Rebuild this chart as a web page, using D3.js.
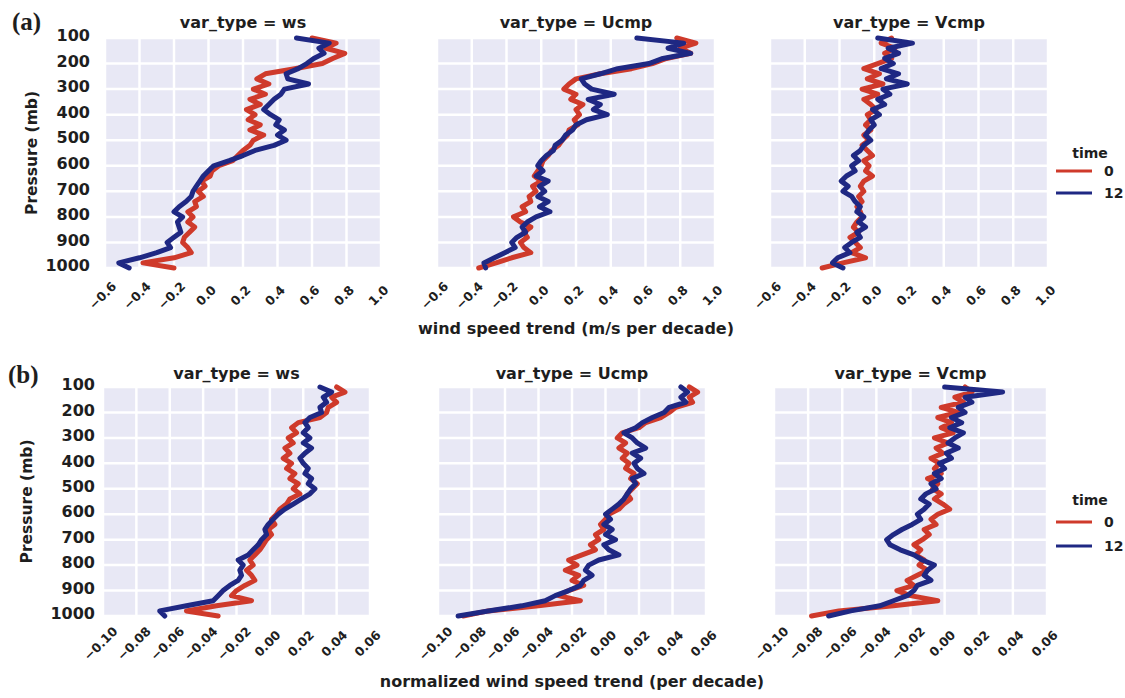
<!DOCTYPE html>
<html>
<head>
<meta charset="utf-8">
<script src="https://cdn.jsdelivr.net/npm/d3@7"></script>
<style>
  body { margin: 0; background: #ffffff; }
  text { font-family: "DejaVu Sans", sans-serif; font-weight: bold; fill: #1e1e1e; }
</style>
</head>
<body>
<svg id="fig" width="1125" height="698"></svg>
<script>
// Pressure levels (mb) at which the trends are sampled
const pressureLevels = [100,120,140,160,180,200,220,240,260,280,300,320,340,360,380,400,420,440,460,480,500,
  520,540,560,580,600,620,640,660,680,700,720,740,760,780,800,820,840,860,880,900,920,940,960,980,1000];
const pressureTicks = [100,200,300,400,500,600,700,800,900,1000];
const varTypes = ["ws", "Ucmp", "Vcmp"];
const timeLabels = ["0", "12"];
const trendTicks = [-0.6,-0.4,-0.2,0.0,0.2,0.4,0.6,0.8,1.0];
const normTicks = [-0.10,-0.08,-0.06,-0.04,-0.02,0.00,0.02,0.04,0.06];

// (a) wind speed trend, m/s per decade
const wsTrend0 = [0.60,0.74,0.68,0.79,0.72,0.66,0.50,0.33,0.28,0.35,0.26,0.33,0.24,0.30,0.22,0.27,0.23,0.30,0.24,0.32,0.26,
  0.24,0.20,0.17,0.14,0.06,0.02,0.01,-0.04,-0.02,-0.06,-0.03,-0.08,-0.07,-0.12,-0.09,-0.12,-0.08,-0.11,-0.14,-0.15,-0.12,-0.10,-0.20,-0.38,-0.20];
const wsTrend12 = [0.51,0.70,0.64,0.67,0.61,0.57,0.52,0.45,0.46,0.58,0.44,0.42,0.38,0.35,0.32,0.36,0.41,0.39,0.44,0.40,0.45,
  0.38,0.27,0.20,0.12,0.03,0.00,-0.03,-0.05,-0.07,-0.09,-0.10,-0.13,-0.17,-0.20,-0.15,-0.18,-0.17,-0.16,-0.20,-0.24,-0.22,-0.30,-0.40,-0.52,-0.46];
const ucmpTrend0 = [0.78,0.89,0.80,0.86,0.72,0.64,0.52,0.34,0.20,0.16,0.13,0.20,0.17,0.24,0.20,0.22,0.19,0.21,0.16,0.15,0.12,
  0.10,0.06,0.04,0.01,0.00,-0.02,-0.04,0.00,-0.05,-0.03,-0.07,-0.06,-0.11,-0.09,-0.16,-0.12,-0.06,-0.10,-0.08,-0.12,-0.10,-0.06,-0.17,-0.26,-0.36];
const ucmpTrend12 = [0.55,0.82,0.73,0.86,0.70,0.62,0.44,0.34,0.23,0.25,0.29,0.42,0.27,0.34,0.30,0.38,0.26,0.20,0.18,0.14,0.12,
  0.08,0.07,0.03,0.00,-0.02,0.01,-0.03,0.04,-0.01,0.02,-0.02,0.04,-0.01,0.05,-0.03,-0.08,-0.11,-0.09,-0.14,-0.17,-0.15,-0.21,-0.27,-0.33,-0.32];
const vcmpTrend0 = [0.10,0.04,0.12,0.06,0.10,0.02,-0.06,0.03,-0.04,0.05,-0.07,0.02,-0.06,-0.02,0.01,-0.04,-0.02,-0.05,-0.02,-0.06,-0.03,
  -0.07,-0.04,-0.01,-0.06,-0.03,-0.05,-0.01,-0.06,-0.08,-0.06,-0.09,-0.07,-0.10,-0.08,-0.07,-0.10,-0.12,-0.09,-0.14,-0.11,-0.08,-0.13,-0.05,-0.18,-0.30];
const vcmpTrend12 = [0.02,0.22,0.08,0.14,0.06,0.11,0.04,0.14,0.07,0.19,0.05,0.09,0.02,0.06,-0.01,0.03,-0.02,0.00,-0.03,-0.05,-0.02,
  -0.06,-0.08,-0.12,-0.09,-0.13,-0.11,-0.16,-0.19,-0.15,-0.18,-0.13,-0.11,-0.08,-0.10,-0.06,-0.09,-0.05,-0.10,-0.08,-0.13,-0.17,-0.14,-0.21,-0.24,-0.18];

// (b) normalized wind speed trend, per decade
const wsNorm0 = [0.040,0.045,0.037,0.040,0.035,0.034,0.030,0.017,0.013,0.016,0.011,0.014,0.009,0.012,0.008,0.013,0.010,0.015,0.012,0.017,0.014,
  0.018,0.012,0.010,0.006,0.004,0.001,0.003,-0.001,0.001,-0.002,-0.004,-0.006,-0.009,-0.012,-0.010,-0.014,-0.011,-0.009,-0.015,-0.020,-0.023,-0.011,-0.032,-0.050,-0.031];
const wsNorm12 = [0.030,0.037,0.032,0.034,0.030,0.031,0.024,0.021,0.023,0.020,0.024,0.020,0.025,0.021,0.018,0.020,0.023,0.021,0.025,0.023,0.027,
  0.024,0.019,0.014,0.009,0.005,0.002,-0.001,-0.003,-0.002,-0.005,-0.007,-0.010,-0.013,-0.019,-0.016,-0.018,-0.017,-0.019,-0.024,-0.028,-0.031,-0.034,-0.050,-0.066,-0.063];
const ucmpNorm0 = [0.050,0.055,0.050,0.052,0.042,0.038,0.033,0.024,0.020,0.010,0.007,0.012,0.008,0.013,0.010,0.014,0.012,0.017,0.015,0.019,0.016,
  0.013,0.015,0.011,0.008,0.002,0.000,-0.003,-0.001,-0.006,-0.004,-0.009,-0.006,-0.014,-0.022,-0.017,-0.024,-0.016,-0.020,-0.013,-0.022,-0.028,-0.015,-0.040,-0.070,-0.085];
const ucmpNorm12 = [0.045,0.049,0.045,0.048,0.038,0.035,0.028,0.022,0.018,0.011,0.016,0.019,0.024,0.016,0.021,0.017,0.019,0.023,0.016,0.018,0.015,
  0.013,0.011,0.008,0.004,0.000,0.003,-0.001,0.004,0.000,0.006,-0.001,0.002,0.008,-0.004,-0.010,-0.012,-0.008,-0.013,-0.015,-0.022,-0.030,-0.036,-0.050,-0.070,-0.088];
const vcmpNorm0 = [0.012,0.016,0.006,0.011,-0.002,0.008,-0.004,0.004,-0.002,0.005,-0.006,0.002,-0.005,-0.001,-0.008,-0.003,-0.006,-0.002,-0.010,-0.004,-0.007,
  -0.002,-0.006,-0.001,0.003,-0.004,-0.008,-0.005,-0.012,-0.009,-0.013,-0.018,-0.014,-0.017,-0.012,-0.015,-0.010,-0.016,-0.022,-0.018,-0.028,-0.020,-0.004,-0.030,-0.062,-0.078];
const vcmpNorm12 = [0.000,0.034,0.012,0.016,0.008,0.012,0.004,0.010,0.003,0.011,0.006,0.002,0.008,0.001,0.004,-0.003,0.000,-0.006,-0.002,-0.008,-0.005,
  -0.011,-0.014,-0.009,-0.012,-0.016,-0.014,-0.019,-0.025,-0.030,-0.034,-0.032,-0.026,-0.018,-0.013,-0.006,-0.010,-0.012,-0.008,-0.016,-0.018,-0.022,-0.030,-0.038,-0.055,-0.068];

const lineColors = ["#cf3a2b", "#1f2883"];

const rows = [
  {
    tag: "(a)", tagX: 12, tagY: 30,
    top: 38, bottom: 268,
    panels: [[105, 381], [437, 715], [770, 1048]],
    domain: [-0.6, 1.0], ticks: trendTicks, fmt: d3.format(".1f"),
    series: [[wsTrend0, wsTrend12], [ucmpTrend0, ucmpTrend12], [vcmpTrend0, vcmpTrend12]],
    titleY: 28, yTickRight: 90, ylabelX: 32,
    xlabel: "wind speed trend (m/s per decade)", xlabelY: 334,
    legend: { titleY: 158, lineY: [171, 193] }
  },
  {
    tag: "(b)", tagX: 8, tagY: 383,
    top: 387, bottom: 616,
    panels: [[103, 370], [438, 706], [774, 1047]],
    domain: [-0.10, 0.06], ticks: normTicks, fmt: d3.format(".2f"),
    series: [[wsNorm0, wsNorm12], [ucmpNorm0, ucmpNorm12], [vcmpNorm0, vcmpNorm12]],
    titleY: 379, yTickRight: 95, ylabelX: 27,
    xlabel: "normalized wind speed trend (per decade)", xlabelY: 687,
    legend: { titleY: 505, lineY: [522, 546] }
  }
];

const svg = d3.select("#fig");

rows.forEach(row => {
  const y = d3.scaleLinear().domain([100, 1000]).range([row.top, row.bottom]);

  row.panels.forEach((ext, pi) => {
    const x = d3.scaleLinear().domain(row.domain).range(ext);
    const g = svg.append("g");

    // panel background
    g.append("rect")
      .attr("x", ext[0]).attr("y", row.top)
      .attr("width", ext[1] - ext[0]).attr("height", row.bottom - row.top)
      .attr("fill", "#e8e8f5");

    // white grid
    g.selectAll(".vgrid").data(row.ticks).join("line")
      .attr("x1", d => x(d)).attr("x2", d => x(d))
      .attr("y1", row.top).attr("y2", row.bottom)
      .attr("stroke", "#ffffff").attr("stroke-width", 2.5);
    g.selectAll(".hgrid").data(pressureTicks).join("line")
      .attr("y1", d => y(d)).attr("y2", d => y(d))
      .attr("x1", ext[0]).attr("x2", ext[1])
      .attr("stroke", "#ffffff").attr("stroke-width", 2.5);

    // trend profiles for each launch time
    const line = d3.line()
      .x(d => x(d.v))
      .y(d => y(d.p));
    row.series[pi].forEach((vals, si) => {
      const pts = pressureLevels.map((p, i) => ({ p, v: vals[i] }));
      g.append("path")
        .datum(pts)
        .attr("d", line)
        .attr("fill", "none")
        .attr("stroke", lineColors[si])
        .attr("stroke-width", 5)
        .attr("stroke-linejoin", "round")
        .attr("stroke-linecap", "round");
    });

    // facet title
    g.append("text")
      .attr("x", (ext[0] + ext[1]) / 2).attr("y", row.titleY)
      .attr("text-anchor", "middle")
      .attr("font-size", 16)
      .text("var_type = " + varTypes[pi]);

    // rotated x tick labels, centred just left of each tick
    const xAxis = d3.axisBottom(x).tickValues(row.ticks).tickFormat(row.fmt).tickSize(0);
    const ax = g.append("g").attr("transform", `translate(0,${row.bottom})`).call(xAxis);
    ax.select(".domain").remove();
    ax.selectAll("text")
      .attr("font-size", 12.5)
      .attr("fill", "#1e1e1e")
      .attr("text-anchor", "middle")
      .attr("dominant-baseline", "central")
      .attr("y", 0).attr("dy", null)
      .attr("transform", "translate(-3,27.5) rotate(-45)");

    // y tick labels only on the first facet of the row
    if (pi === 0) {
      const yAxis = d3.axisLeft(y).tickValues(pressureTicks).tickFormat(d3.format("d")).tickSize(0);
      const ay = svg.append("g").attr("transform", `translate(${row.yTickRight},0)`).call(yAxis);
      ay.select(".domain").remove();
      ay.selectAll("text")
        .attr("font-size", 16)
        .attr("fill", "#1e1e1e")
        .attr("x", 0)
        .attr("dy", "0.36em")
        .attr("transform", "translate(0,-3)");

      svg.append("text")
        .attr("transform", `translate(${row.ylabelX},${(row.top + row.bottom) / 2}) rotate(-90)`)
        .attr("text-anchor", "middle")
        .attr("dominant-baseline", "central")
        .attr("font-size", 15.5)
        .text("Pressure (mb)");
    }
  });

  // panel tag
  svg.append("text")
    .attr("x", row.tagX).attr("y", row.tagY)
    .attr("font-size", 25)
    .style("font-family", "'Liberation Serif', serif")
    .text(row.tag);

  // shared x label
  svg.append("text")
    .attr("x", (row.panels[1][0] + row.panels[1][1]) / 2).attr("y", row.xlabelY)
    .attr("text-anchor", "middle")
    .attr("font-size", 16)
    .text(row.xlabel);

  // legend
  const lg = svg.append("g");
  lg.append("text")
    .attr("x", 1090).attr("y", row.legend.titleY)
    .attr("text-anchor", "middle")
    .attr("font-size", 14)
    .text("time");
  timeLabels.forEach((t, i) => {
    lg.append("line")
      .attr("x1", 1056).attr("x2", 1092)
      .attr("y1", row.legend.lineY[i]).attr("y2", row.legend.lineY[i])
      .attr("stroke", lineColors[i]).attr("stroke-width", 3);
    lg.append("text")
      .attr("x", 1104).attr("y", row.legend.lineY[i])
      .attr("dominant-baseline", "central")
      .attr("font-size", 14)
      .text(t);
  });
});
</script>
</body>
</html>
